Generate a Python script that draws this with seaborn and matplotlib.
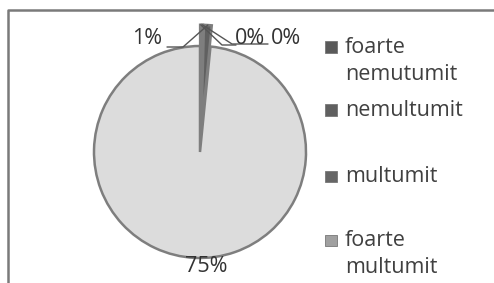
import matplotlib
matplotlib.use("Agg")
import matplotlib.pyplot as plt
import seaborn as sns
import numpy as np
from matplotlib.lines import Line2D
from matplotlib.patches import Rectangle

categories = ["foarte nemutumit", "nemultumit", "multumit", "foarte multumit"]
legend_labels = ["foarte\nnemutumit", "nemultumit", "multumit", "foarte\nmultumit"]
values = [0.15, 0.15, 0.9, 75.0]
value_labels = ["0%", "0%", "1%", "75%"]

sns.set_theme(style="white")
plt.rcParams["font.family"] = ["Open Sans", "DejaVu Sans"]

W, H = 494, 283
fig = plt.figure(figsize=(W / 100, H / 100), dpi=100)
fig.patch.set_facecolor("white")

# pie centre and radius in pixels
cx, cy_top, R = 200, 152, 106
cy = H - cy_top
ax = fig.add_axes([0, 0, 1, 1])

slice_colors = ["#505050", "#5a5a5a", "#606060", "#dcdcdc"]
wedges, _ = ax.pie(values, colors=slice_colors, startangle=90, counterclock=False,
                   explode=[0.2, 0.2, 0.2, 0.0],
                   wedgeprops=dict(edgecolor="#7e7e7e", linewidth=1.8))
for w in wedges:
    w.set_clip_on(False)
ax.set_xlim(-cx / R, (W - cx) / R)
ax.set_ylim(-cy / R, (H - cy) / R)
ax.set_aspect("auto")
ax.axis("off")

def px(x, y):
    return (x - cx) / R, (cy_top - y) / R

txt_col = "#333333"
fs = 15.5
# tips of the small exploded wedges
tips = []
for w in wedges[:3]:
    th = np.deg2rad((w.theta1 + w.theta2) / 2)
    tips.append((1.2 * np.cos(th), 1.2 * np.sin(th)))

line_kw = dict(color="#555555", lw=1.0, clip_on=False)
# label "1%" (multumit) on the left
x0, y0 = px(167, 47); x1, _ = px(183, 47)
ax.plot([x0, x1, tips[2][0]], [y0, y0, tips[2][1]], **line_kw)
ax.text(*px(162, 38), value_labels[2], ha="right", va="center", fontsize=fs, color=txt_col)
# labels "0%" on the right
xa, ya = px(222, 45); xb, _ = px(236, 45)
ax.plot([tips[0][0], xa, xb], [tips[0][1], ya, ya], **line_kw)
ax.text(*px(235, 38), value_labels[0], ha="left", va="center", fontsize=fs, color=txt_col)
xa, ya = px(232, 44); xb, _ = px(268, 44)
ax.plot([tips[1][0], xa, xb], [tips[1][1], ya, ya], **line_kw)
ax.text(*px(271, 38), value_labels[1], ha="left", va="center", fontsize=fs, color=txt_col)
# label "75%"
ax.text(*px(206, 266), value_labels[3], ha="center", va="center", fontsize=fs, color=txt_col)

# legend (manual, Excel style)
leg_colors = ["#5a5a5a", "#606060", "#666666", "#a0a0a0"]
sq_y = [47, 110, 176, 240]
for lab, col, sy in zip(legend_labels, leg_colors, sq_y):
    fig.patches.append(Rectangle(((325) / W, (H - sy - 5.5) / H), 12 / W, 11 / H,
                                 transform=fig.transFigure, facecolor=col,
                                 edgecolor="#777777", lw=0.6))
    lines = lab.split("\n")
    for k, ln in enumerate(lines):
        base = sy + 6 + k * 27
        fig.text(345 / W, (H - base) / H, ln, ha="left", va="baseline",
                 fontsize=fs, color="#404040")

# chart frame (left and top edges visible)
fig.lines.append(Line2D([8 / W, 8 / W, 1.0], [0.0, (H - 10) / H, (H - 10) / H],
                        transform=fig.transFigure, color="#7a7a7a", lw=1.8))

fig.savefig("out.png", dpi=100, facecolor="white")
